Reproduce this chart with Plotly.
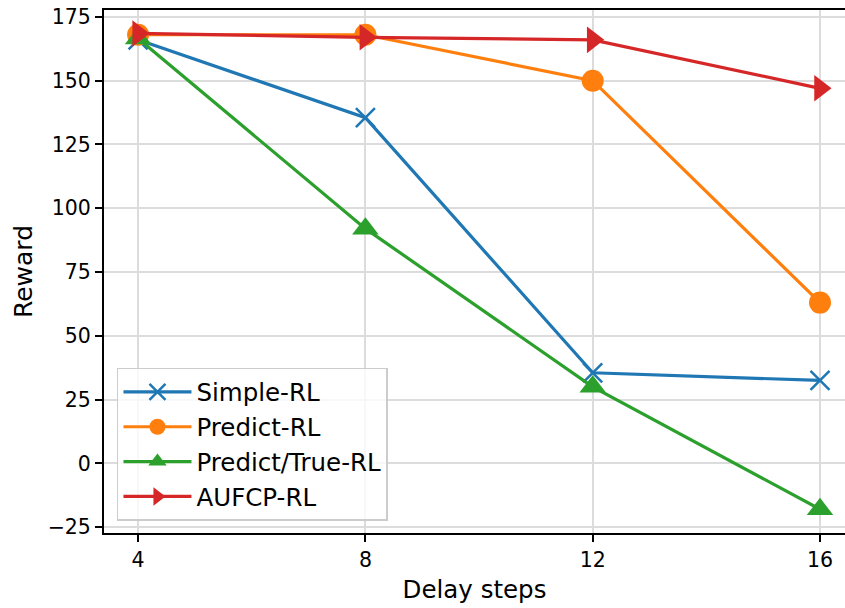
import plotly.graph_objects as go

# Reward vs. delay steps for four control strategies
delay_steps = [4, 8, 12, 16]
simple_rl = [166, 135.5, 35.5, 32.5]
predict_rl = [168, 168, 150, 63]
predict_true_rl = [166.5, 92, 30, -18]
aufcp_rl = [168.5, 167, 166, 147]

series = [
    ("Simple-RL", simple_rl, "#1f77b4", "x-thin", 19),
    ("Predict-RL", predict_rl, "#ff7f0e", "circle", 22),
    ("Predict/True-RL", predict_true_rl, "#2ca02c", "triangle-up", 23),
    ("AUFCP-RL", aufcp_rl, "#d62728", "triangle-right", 23),
]

fig = go.Figure()
for name, vals, color, symbol, size in series:
    marker = dict(symbol=symbol, size=size, color=color)
    if symbol == "x-thin":
        marker["line"] = dict(color=color, width=2.5)
    else:
        marker["line"] = dict(width=0)
    fig.add_trace(go.Scatter(
        x=delay_steps, y=vals, name=name, legendgroup=name,
        mode="lines+markers",
        line=dict(color=color, width=3.2),
        marker=marker,
    ))

font_family = "DejaVu Sans"
axis_common = dict(
    showgrid=True, gridcolor="#dcdcdc", gridwidth=1.5,
    showline=True, linecolor="black", linewidth=2,
    ticks="outside", ticklen=7, tickwidth=1.5, tickcolor="black",
    tickfont=dict(family=font_family, size=20.5, color="black"),
    zeroline=False,
)

fig.update_layout(
    width=845, height=608,
    margin=dict(l=104, r=0, t=10, b=75),
    plot_bgcolor="white", paper_bgcolor="white",
    font=dict(family=font_family, color="black"),
    xaxis=dict(
        **axis_common,
        range=[3.4, 16.44], tickvals=delay_steps, mirror=True,
        title=dict(text="Delay steps", font=dict(size=24.5), standoff=10),
    ),
    yaxis=dict(
        **axis_common,
        range=[-27.3, 177.7], tickvals=[-25, 0, 25, 50, 75, 100, 125, 150, 175],
        ticktext=["\u221225", "0", "25", "50", "75", "100", "125", "150", "175"],
        title=dict(text="Reward", font=dict(size=25), standoff=8),
    ),
    showlegend=True,
    legend=dict(
        x=0.0175, y=0.023, xanchor="left", yanchor="bottom",
        bgcolor="rgba(255,255,255,0.8)", bordercolor="#cccccc", borderwidth=1.5,
        font=dict(family=font_family, size=24.5, color="black"),
        tracegroupgap=0, itemwidth=68,
    ),
)

fig.write_html("out.html")
